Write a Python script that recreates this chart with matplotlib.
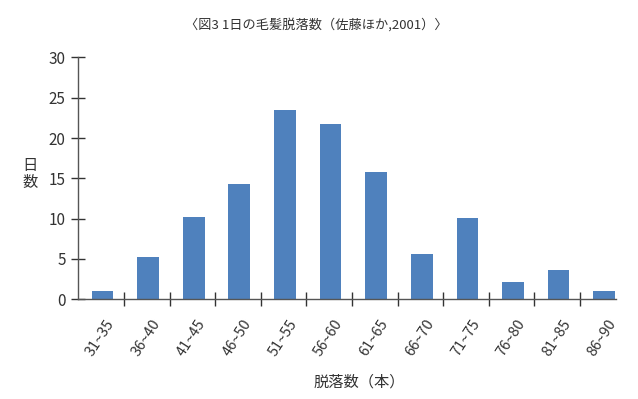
import numpy as np
import matplotlib.pyplot as plt

plt.rcParams['font.family'] = ['Noto Sans CJK JP', 'DejaVu Sans']

# データ
bins = ['31~35', '36~40', '41~45', '46~50', '51~55', '56~60',
        '61~65', '66~70', '71~75', '76~80', '81~85', '86~90']
days = [1.0, 5.2, 10.2, 14.3, 23.5, 21.7, 15.8, 5.6, 10.1, 2.2, 3.6, 1.0]

fig = plt.figure(figsize=(6.38, 3.99), dpi=100)
ax = fig.add_axes([0.1227, 0.25, 0.843, 0.606])

x = np.arange(len(bins))
ax.bar(x + 0.03, days, width=0.475, color='#4f81bd', zorder=2)

ax.set_xlim(-0.5, 11.29)
ax.set_ylim(0, 30)
ax.set_yticks(range(0, 31, 5))

# 目盛り線は区切り位置、ラベルは棒の中央
ax.set_xticks(x + 0.1)
ax.set_xticklabels(bins, rotation=57, ha='right', rotation_mode='anchor',
                   fontsize=10.5, color='#333333')
ax.tick_params(axis='x', which='major', length=0, pad=13)
ax.set_xticks(x[1:] - 0.5, minor=True)
ax.tick_params(axis='x', which='minor', direction='inout', length=10,
               width=1, color='#333333')
ax.tick_params(axis='y', direction='inout', length=10, width=1,
               color='#333333', labelsize=11, labelcolor='#333333', pad=4)

for s in ['top', 'right']:
    ax.spines[s].set_visible(False)
for s in ['left', 'bottom']:
    ax.spines[s].set_color('#555555')
    ax.spines[s].set_linewidth(1)

fig.text(0.496, 0.937, '〈図3 1日の毛髪脱落数（佐藤ほか,2001）〉',
         ha='center', va='center', fontsize=9.5, color='#333333')
fig.text(0.047, 0.565, '日\n数', ha='center', va='center', fontsize=11,
         color='#333333', linespacing=1.0)
fig.text(0.563, 0.043, '脱落数（本）', ha='center', va='center', fontsize=11,
         color='#333333')

fig.savefig('out.png', dpi=100)
